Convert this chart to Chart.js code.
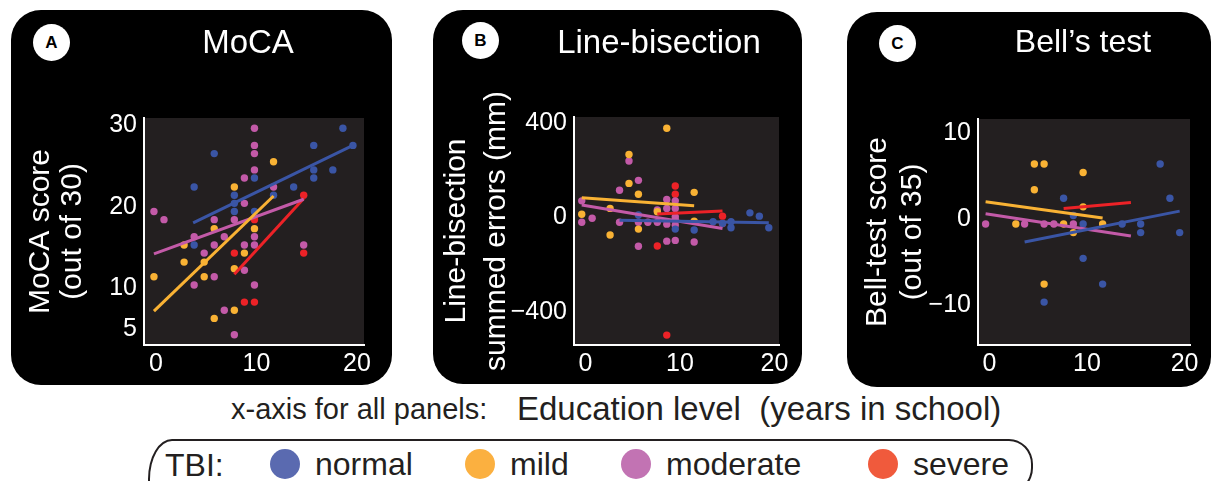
<!DOCTYPE html>
<html>
<head>
<meta charset="utf-8">
<script src="https://cdn.jsdelivr.net/npm/chart.js@4.4.1/dist/chart.umd.min.js"></script>
<style>
  html, body { margin: 0; padding: 0; background: #fff; }
  body { width: 1214px; height: 481px; position: relative; overflow: hidden; font-family: "Liberation Sans", Arial, sans-serif; }
  .panel { position: absolute; background: #000; border-radius: 30px; }
  .panel canvas { position: absolute; left: 0; top: 0; }
  .badge { position: absolute; width: 37px; height: 37px; border-radius: 50%; background: #fff; color: #000; font-weight: bold; font-size: 17px; line-height: 37px; text-align: center; }
  .title { position: absolute; color: #fff; white-space: nowrap; transform: translateX(-50%); }
  .txt { position: absolute; color: #231f20; white-space: pre; }
  #legendBox { position: absolute; left: 148px; top: 439px; width: 881px; height: 50px; border: 2px solid #231f20; border-radius: 24px 24px 24px 24px / 40px 25px 25px 10px; }
  .dot { position: absolute; width: 30px; height: 30px; border-radius: 50%; top: 449px; }
</style>
</head>
<body>
<div class="panel" style="left:11px;top:10px;width:381px;height:375px"><canvas id="chartMoca" width="381" height="375"></canvas></div>
<div class="panel" style="left:433px;top:10px;width:369px;height:374px"><canvas id="chartLine" width="369" height="374"></canvas></div>
<div class="panel" style="left:847px;top:12px;width:364px;height:375px"><canvas id="chartBell" width="364" height="375"></canvas></div>

<div class="badge" style="left:33px;top:24px">A</div>
<div class="badge" style="left:462px;top:22px">B</div>
<div class="badge" style="left:879px;top:25px">C</div>

<div class="title" style="left:248px;top:25px;font-size:33px;line-height:33px">MoCA</div>
<div class="title" style="left:659px;top:25px;font-size:33px;line-height:33px">Line-bisection</div>
<div class="title" style="left:1083px;top:25px;font-size:32px;line-height:32px">Bell’s test</div>

<div class="txt" style="left:231px;top:395px;font-size:29px;line-height:29px">x-axis for all panels:</div>
<div class="txt" style="left:517px;top:392px;font-size:33px;line-height:33px">Education level  (years in school)</div>

<div id="legendBox"></div>
<div class="txt" style="left:165px;top:449px;font-size:32px;line-height:32px">TBI:</div>
<div id="legend"></div>

<script>
// groups and colours
const groups = ["normal", "mild", "moderate", "severe"];
const dotColors = ["#3a55a5", "#f9b234", "#c35aa8", "#ec2227"];
const legendColors = ["#5a6ab0", "#fbb040", "#c273b3", "#f05a3c"];
const xTicks = [0, 10, 20];

// A: MoCA  [education years, score]
const mocaNormal = [[18.6, 29.6], [15.7, 27.5], [19.6, 27.5], [5.8, 26.5], [15.7, 24.5], [17.6, 24.5],
  [9.8, 23.5], [15.7, 23.5], [3.8, 22.4], [13.7, 22.4], [7.8, 21.4], [11.7, 21.4], [7.8, 20.4],
  [7.8, 19.4], [9.8, 19.4], [3.8, 15.3]];
const mocaMild = [[11.7, 25.5], [7.8, 22.4], [9.8, 17.3], [5.8, 17.3], [2.8, 15.3], [8.8, 14.3],
  [2.8, 13.2], [4.8, 13.2], [-0.2, 11.4], [4.8, 11.4], [7.8, 12.4], [7.8, 7.3], [5.8, 6.3]];
const mocaModerate = [[9.8, 29.6], [9.8, 27.5], [9.8, 26.5], [9.8, 24.5], [8.8, 23.5], [11.7, 22.4],
  [8.8, 20.4], [-0.2, 19.4], [0.8, 18.4], [5.8, 18.4], [7.8, 18.4], [3.8, 16.3], [6.8, 16.3],
  [9.8, 16.3], [5.8, 15.3], [8.8, 15.3], [9.8, 15.3], [14.7, 15.3], [4.8, 14.3], [8.8, 12.2],
  [5.8, 11.4], [3.8, 10.4], [9.8, 10.4], [6.8, 7.3], [7.8, 4.3]];
const mocaSevere = [[14.7, 21.4], [9.8, 18.4], [7.8, 14.3], [8.8, 8.3], [9.8, 8.3], [14.7, 14.3]];
const mocaFits = [[[3.7, 18.0], [19.6, 27.5]], [[-0.2, 7.2], [11.7, 21.3]],
  [[-0.2, 14.2], [14.7, 20.9]], [[7.8, 11.7], [14.7, 21.0]]];
const mocaYTicks = [5, 10, 20, 30];

// B: Line-bisection  [education years, summed error mm]
const lineNormal = [[17.4, 20], [18.4, 6], [19.4, -43], [15.4, -18], [15.4, -43], [14.5, -25],
  [13.5, -18], [11.5, -53], [9.5, -49], [5.6, 11]];
const lineMild = [[8.6, 379], [4.6, 268], [4.6, 145], [5.6, 99], [11.5, 107], [2.6, 39], [-0.4, 14],
  [2.6, -74], [7.6, 25], [11.5, -15], [5.6, -49]];
const lineModerate = [[4.6, 240], [5.6, 158], [3.6, 116], [8.6, 77], [9.5, 71], [8.6, 39], [9.5, 39],
  [7.6, 32], [-0.4, 71], [0.7, -3], [-0.4, -20], [3.6, -20], [5.6, -20], [6.6, -20], [7.6, -20],
  [8.6, -28], [9.5, -32], [9.5, 3], [9.5, -10], [5.6, -122], [8.6, -100], [9.5, -97], [11.5, -104]];
const lineSevere = [[9.5, 134], [9.5, 99], [7.6, -121], [8.6, -499], [14.5, 6], [14.5, -25]];
const lineFits = [[[3.6, -11], [19.4, -22]], [[-0.4, 84], [11.5, 50]],
  [[-0.4, 53], [14.5, -46]], [[7.6, 15], [14.5, 28]]];
const lineYTicks = [-400, 0, 400];

// C: Bell's test  [education years, score]
const bellNormal = [[17.5, 6.4], [7.6, 2.4], [18.5, 2.4], [8.6, 0.4], [9.6, -0.6], [13.6, -0.6],
  [15.5, -0.6], [15.5, -1.6], [19.5, -1.6], [9.6, -4.6], [11.6, -7.6], [5.6, -9.7]];
const bellMild = [[4.6, 6.4], [5.6, 6.4], [9.6, 5.4], [4.6, 3.4], [9.6, 1.4], [2.7, -0.6], [7.6, -0.6],
  [11.6, -0.6], [8.6, -1.6], [5.6, -7.6]];
const bellModerate = [[-0.4, -0.6], [3.6, -0.6], [5.6, -0.6], [6.6, -0.6], [8.6, -0.6]];
const bellSevere = [];
const bellFits = [[[3.6, -2.7], [19.5, 0.9]], [[-0.4, 2.0], [11.6, 0.1]],
  [[-0.4, 0.6], [14.5, -2.0]], [[7.6, 1.2], [14.5, 1.9]]];
const bellYTicks = [-10, 0, 10];

Chart.defaults.font.family = "'Liberation Sans', Arial, sans-serif";

// dark plot area
const plotBg = {
  id: "plotBg",
  beforeDraw(chart) {
    const { ctx, chartArea: a } = chart;
    ctx.save();
    ctx.fillStyle = "#231f20";
    ctx.fillRect(a.left, a.top, a.right - a.left, a.bottom - a.top);
    ctx.restore();
  },
};

function tickText(v) {
  return v < 0 ? "\u2212" + Math.abs(v) : String(v);
}

function makeChart(id, p) {
  const datasets = [];
  p.fits.forEach((seg, i) => {
    datasets.push({
      data: seg.map(([x, y]) => ({ x, y })),
      showLine: true,
      borderColor: dotColors[i],
      borderWidth: 3,
      pointRadius: 0,
      order: 0,
    });
  });
  p.dots.forEach((pts, i) => {
    datasets.push({
      label: groups[i],
      data: pts.map(([x, y]) => ({ x, y })),
      backgroundColor: dotColors[i],
      borderWidth: 0,
      pointRadius: 3.7,
      order: 1,
    });
  });

  return new Chart(document.getElementById(id), {
    type: "scatter",
    data: { datasets },
    plugins: [plotBg],
    options: {
      responsive: false,
      animation: false,
      devicePixelRatio: 1,
      events: [],
      layout: { padding: { left: 0, top: p.top, right: p.right, bottom: 0 } },
      plugins: { legend: { display: false }, tooltip: { enabled: false } },
      scales: {
        x: {
          type: "linear",
          min: p.xMin,
          max: p.xMax,
          grid: { display: false, drawTicks: false },
          border: { display: true, color: "#fff", width: 2 },
          ticks: { color: "#fff", font: { size: 25 }, padding: 4, maxRotation: 0, autoSkip: false, callback: tickText },
          afterBuildTicks: (s) => { s.ticks = xTicks.map((v) => ({ value: v })); },
          afterFit: (s) => {
            s.height = p.bottom;
            s.paddingLeft = 0; s.paddingRight = 0; s.paddingTop = 0; s.paddingBottom = 0;
          },
        },
        y: {
          type: "linear",
          min: p.yMin,
          max: p.yMax,
          grid: { display: false, drawTicks: false },
          border: { display: true, color: "#fff", width: 2 },
          ticks: { color: "#fff", font: { size: 25 }, padding: 7, autoSkip: false, callback: tickText },
          afterBuildTicks: (s) => { s.ticks = p.yTicks.map((v) => ({ value: v })); },
          afterFit: (s) => {
            s.width = p.left;
            s.paddingLeft = 0; s.paddingRight = 0; s.paddingTop = 0; s.paddingBottom = 0;
          },
          title: {
            display: true,
            text: p.yTitle,
            color: "#fff",
            font: { size: 30, lineHeight: p.titleLine },
            padding: { top: p.titlePad, bottom: 0 },
          },
        },
      },
    },
  });
}

function initialize() {
  makeChart("chartMoca", {
    dots: [mocaNormal, mocaMild, mocaModerate, mocaSevere], fits: mocaFits, yTicks: mocaYTicks,
    xMin: -1.19, xMax: 20.7, yMin: 3.04, yMax: 30.86,
    yTitle: ["MoCA score", "(out of 30)"],
    left: 133, top: 108, right: 28, bottom: 40, titleLine: "32px", titlePad: 14,
  });
  makeChart("chartLine", {
    dots: [lineNormal, lineMild, lineModerate, lineSevere], fits: lineFits, yTicks: lineYTicks,
    xMin: -1.22, xMax: 20.48, yMin: -541, yMax: 427,
    yTitle: ["Line-bisection", "summed errors (mm)"],
    left: 141, top: 107, right: 23, bottom: 39, titleLine: "40px", titlePad: 4,
  });
  makeChart("chartBell", {
    dots: [bellNormal, bellMild, bellModerate, bellSevere], fits: bellFits, yTicks: bellYTicks,
    xMin: -1.18, xMax: 20.56, yMin: -14.7, yMax: 11.64,
    yTitle: ["Bell-test score", "(out of 35)"],
    left: 131, top: 107, right: 21, bottom: 42, titleLine: "35px", titlePad: 13,
  });

  // shared legend
  const legendLeft = [270, 465, 621, 868];
  const legend = document.getElementById("legend");
  groups.forEach((g, i) => {
    const dot = document.createElement("div");
    dot.className = "dot";
    dot.style.left = legendLeft[i] + "px";
    dot.style.background = legendColors[i];
    legend.appendChild(dot);
    const label = document.createElement("div");
    label.className = "txt";
    label.style.cssText = `left:${legendLeft[i] + 45}px;top:448px;font-size:32px;line-height:32px`;
    label.textContent = g;
    legend.appendChild(label);
  });
}

document.addEventListener("DOMContentLoaded", initialize);
</script>
</body>
</html>
